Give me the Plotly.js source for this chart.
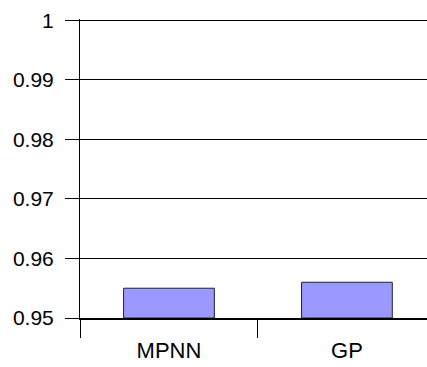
<!DOCTYPE html>
<html>
<head>
<meta charset="utf-8">
<script src="https://cdn.plot.ly/plotly-3.0.1.min.js"></script>
<style>html,body{margin:0;padding:0;background:#fff;}#chart{width:427px;height:367px;}</style>
</head>
<body>
<div id="chart"></div>
<script>
const categories = ["MPNN", "GP"];
const values = [0.955, 0.956];
const yTickVals = [0.95, 0.96, 0.97, 0.98, 0.99, 1];
const yTickText = ["0.95", "0.96", "0.97", "0.98", "0.99", "1"];

const trace = {
  type: "bar",
  x: categories,
  y: values.map(v => v - 0.95),
  base: 0.95,
  width: 0.51,
  marker: {color: "#9999FF", line: {color: "#222222", width: 1}},
  hoverinfo: "none"
};

const layout = {
  width: 427, height: 367,
  margin: {l: 80, r: 0, t: 19, b: 49, pad: 0},
  paper_bgcolor: "#ffffff", plot_bgcolor: "#ffffff",
  font: {family: "Liberation Sans, Arial, sans-serif", color: "#000000"},
  showlegend: false,
  xaxis: {
    type: "category",
    range: [-0.5, 1.45],
    showline: true, linecolor: "#000000", linewidth: 2,
    ticks: "outside", tickson: "boundaries", ticklen: 18, tickcolor: "#000000", tickwidth: 1,
    ticklabelstandoff: 12,
    tickfont: {size: 22, color: "#000000"},
    showgrid: false, zeroline: false,
    fixedrange: true
  },
  yaxis: {
    range: [0.95, 1.0002],
    tickvals: yTickVals, ticktext: yTickText,
    showline: true, linecolor: "#000000", linewidth: 1,
    ticks: "outside", ticklen: 14, tickcolor: "#000000", tickwidth: 1,
    ticklabelstandoff: 7,
    tickfont: {size: 21, color: "#000000"},
    showgrid: true, gridcolor: "#000000", gridwidth: 1,
    zeroline: false,
    fixedrange: true
  }
};

Plotly.newPlot("chart", [trace], layout, {displayModeBar: false, staticPlot: true});
</script>
</body>
</html>
